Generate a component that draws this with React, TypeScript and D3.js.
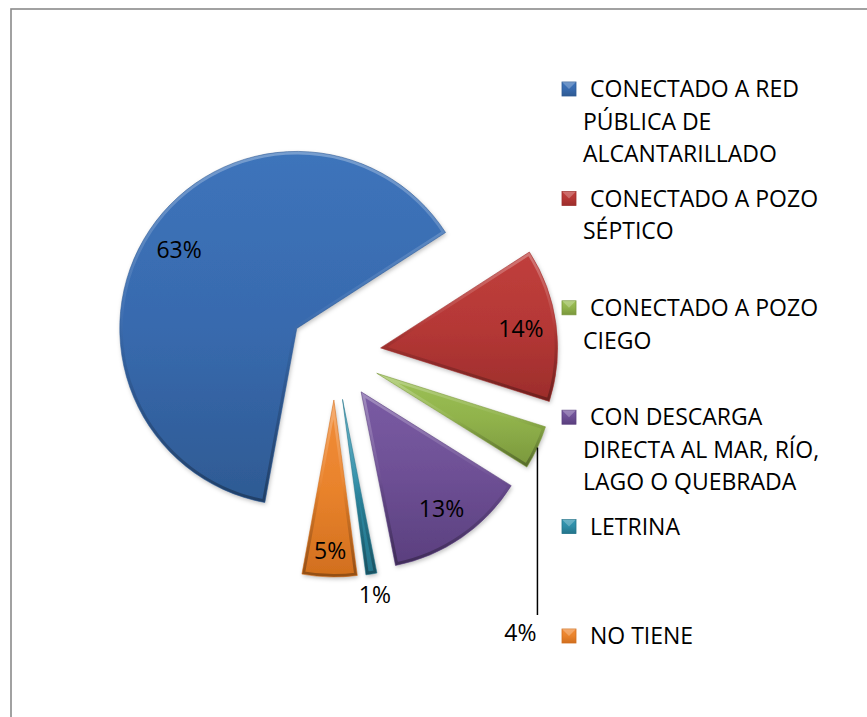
import { arc, pie } from "d3";
import type { PieArcDatum } from "d3";

// sewage disposal categories, in the order Excel drew them
const categories = [
  "CONECTADO A RED PÚBLICA DE ALCANTARILLADO",
  "CONECTADO A POZO SÉPTICO",
  "CONECTADO A POZO CIEGO",
  "CON DESCARGA DIRECTA AL MAR, RÍO, LAGO O QUEBRADA",
  "LETRINA",
  "NO TIENE",
];
const values = [63, 14, 4, 13, 1, 5];
const valueLabels = ["63%", "14%", "4%", "13%", "1%", "5%"];
const legendLines = [
  ["CONECTADO A RED", "PÚBLICA DE", "ALCANTARILLADO"],
  ["CONECTADO A POZO", "SÉPTICO"],
  ["CONECTADO A POZO", "CIEGO"],
  ["CON DESCARGA", "DIRECTA AL MAR, RÍO,", "LAGO O QUEBRADA"],
  ["LETRINA"],
  ["NO TIENE"],
];

// light, mid, dark per slice
const palette = [
  ["#3d74bb", "#386aae", "#2e5a93"],
  ["#c03f3c", "#b53836", "#9c2d2b"],
  ["#9dc256", "#90b24b", "#7a973c"],
  ["#7a5ca4", "#6d4f94", "#5a3f7e"],
  ["#3499b4", "#2e8ca6", "#24748a"],
  ["#f28d39", "#e9832c", "#d16f1e"],
];

const font = "'Open Sans', 'Noto Sans', sans-serif";

export default function App() {
  const width = 867;
  const height = 717;
  const cx = 335;
  const cy = 354;
  const radius = 177;
  const explode = 46;
  const startDeg = 190.4;
  const start = (startDeg * Math.PI) / 180;

  const slices = pie<number>()
    .value((d) => d)
    .sort(null)
    .startAngle(start)
    .endAngle(start + Math.PI * 2)(values);

  const sliceArc = arc<PieArcDatum<number>>().innerRadius(0).outerRadius(radius);

  const legendX = 562;
  const legendTop = 89;
  const legendStep = 109.4;
  const lineStep = 32.5;
  const fontSize = 23;

  return (
    <svg
      width={width}
      height={height}
      viewBox={`0 0 ${width} ${height}`}
      style={{ position: "absolute", left: 0, top: 0, background: "#fff" }}
      fontFamily={font}
    >
      <defs>
        <filter id="sliceShadow" x="-20%" y="-20%" width="140%" height="140%">
          <feDropShadow dx="1" dy="2" stdDeviation="2" floodColor="#000" floodOpacity="0.25" />
        </filter>
        <linearGradient id="bevel" x1="0" y1="0" x2="0" y2="1">
          <stop offset="0" stopColor="#fff" stopOpacity="0.3" />
          <stop offset="0.45" stopColor="#fff" stopOpacity="0.05" />
          <stop offset="0.55" stopColor="#000" stopOpacity="0.05" />
          <stop offset="1" stopColor="#000" stopOpacity="0.3" />
        </linearGradient>
        {palette.map((c, i) => (
          <linearGradient key={i} id={`fill-${i}`} x1="0" y1="0" x2="0" y2="1">
            <stop offset="0" stopColor={c[0]} />
            <stop offset="0.5" stopColor={c[1]} />
            <stop offset="1" stopColor={c[2]} />
          </linearGradient>
        ))}
        {slices.map((s, i) => (
          <clipPath key={i} id={`clip-${i}`}>
            <path d={sliceArc(s) ?? ""} />
          </clipPath>
        ))}
      </defs>

      <rect x="11" y="9" width={width + 20} height={height + 20} fill="#fff" stroke="#8a8a8a" strokeWidth="1.6" />

      {slices.map((s, i) => {
        const mid = (s.startAngle + s.endAngle) / 2;
        const ox = cx + Math.sin(mid) * explode;
        const oy = cy - Math.cos(mid) * explode;
        const d = sliceArc(s) ?? "";
        return (
          <g key={categories[i]} transform={`translate(${ox},${oy})`}>
            <path d={d} fill={`url(#fill-${i})`} filter="url(#sliceShadow)" />
            <path
              d={d}
              fill="none"
              stroke="url(#bevel)"
              strokeWidth="6"
              strokeLinejoin="round"
              clipPath={`url(#clip-${i})`}
            />
            <path d={d} fill="none" stroke={palette[i][2]} strokeOpacity="0.7" strokeWidth="0.8" />
          </g>
        );
      })}

      {slices.map((s, i) => {
        const mid = (s.startAngle + s.endAngle) / 2;
        const ox = cx + Math.sin(mid) * explode;
        const oy = cy - Math.cos(mid) * explode;
        const share = values[i];
        if (share >= 5) {
          const lr = radius * (share >= 10 ? 0.8 : 0.85);
          return (
            <text
              key={i}
              x={ox + Math.sin(mid) * lr}
              y={oy - Math.cos(mid) * lr}
              dy="0.36em"
              textAnchor="middle"
              fontSize={fontSize}
              fill="#000"
            >
              {valueLabels[i]}
            </text>
          );
        }
        if (share >= 4) {
          // leader line straight down from the rim
          const ax = ox + Math.sin(mid) * radius;
          const ay = oy - Math.cos(mid) * radius;
          const bottom = 615;
          return (
            <g key={i}>
              <line x1={ax} y1={ay} x2={ax} y2={bottom} stroke="#000" strokeWidth="1.5" />
              <text x={ax - 17} y={bottom + 18} dy="0.36em" textAnchor="middle" fontSize={fontSize} fill="#000">
                {valueLabels[i]}
              </text>
            </g>
          );
        }
        const lr = radius + 21;
        return (
          <text
            key={i}
            x={ox + Math.sin(mid) * lr}
            y={oy - Math.cos(mid) * lr}
            dy="0.36em"
            textAnchor="middle"
            fontSize={fontSize}
            fill="#000"
          >
            {valueLabels[i]}
          </text>
        );
      })}

      {legendLines.map((lines, i) => {
        const y0 = legendTop + i * legendStep;
        return (
          <g key={i}>
            <rect
              x={legendX}
              y={y0 - 7}
              width="14"
              height="14"
              fill={`url(#fill-${i})`}
              stroke={palette[i][2]}
              strokeWidth="0.8"
            />
            <path
              d={`M${legendX} ${y0 - 7} L${legendX + 7} ${y0} L${legendX + 14} ${y0 - 7} Z`}
              fill="#fff"
              fillOpacity="0.25"
            />
            {lines.map((line, j) => (
              <text
                key={j}
                x={j === 0 ? legendX + 28 : legendX + 21}
                y={y0 + j * lineStep}
                dy="0.36em"
                fontSize={fontSize}
                fill="#000"
              >
                {line}
              </text>
            ))}
          </g>
        );
      })}
    </svg>
  );
}
